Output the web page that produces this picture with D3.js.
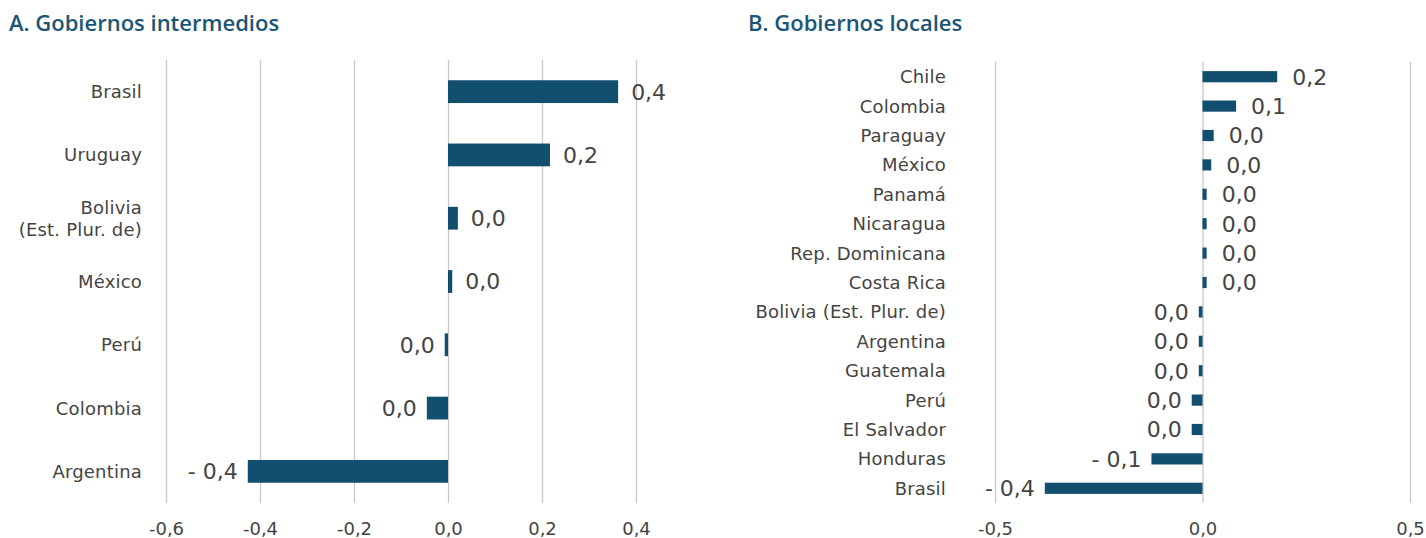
<!DOCTYPE html>
<html>
<head>
<meta charset="utf-8">
<script src="https://cdn.jsdelivr.net/npm/d3@7"></script>
<style>
	body { margin: 0; background: #fff; }
	svg { display: block; font-family: "DejaVu Sans", sans-serif; }
</style>
</head>
<body>
<svg id="chart" width="1426" height="538"></svg>
<script>
// panel A: gobiernos intermedios
const catsA = ["Brasil", "Uruguay", "Bolivia\n(Est. Plur. de)", "México", "Perú", "Colombia", "Argentina"];
const valsA = [0.362, 0.217, 0.021, 0.009, -0.007, -0.045, -0.426];
const ticksA = [-0.6, -0.4, -0.2, 0.0, 0.2, 0.4];

// panel B: gobiernos locales
const catsB = ["Chile", "Colombia", "Paraguay", "México", "Panamá", "Nicaragua", "Rep. Dominicana",
	"Costa Rica", "Bolivia (Est. Plur. de)", "Argentina", "Guatemala", "Perú", "El Salvador", "Honduras", "Brasil"];
const valsB = [0.18, 0.081, 0.027, 0.021, 0.01, 0.01, 0.01, 0.01, -0.009, -0.009, -0.009, -0.026, -0.026, -0.123, -0.38];
const ticksB = [-0.5, 0.0, 0.5];

const barColor = "#124f6e";
const textColor = "#444";
const gridColor = "#c8c8c8";

const svg = d3.select("#chart");

const tickFmt = v => d3.format(".1f")(v).replace(".", ",").replace("−", "-");
function valueFmt(v) {
	const r = Math.round(v * 10) / 10;
	const s = d3.format(".1f")(Math.abs(r)).replace(".", ",");
	return r < 0 ? "- " + s : s;
}

function drawPanel({ title, titleX, cats, vals, ticks, xRange, domain, yTop, yBottom, pad, labelRight, posGap }) {

	svg.append("text")
		.attr("x", titleX)
		.attr("y", 31)
		.attr("fill", "#1a5676")
		.style("font-family", "Open Sans")
		.style("font-size", "22px")
		.style("font-weight", 600)
		.text(title);

	const x = d3.scaleLinear().domain(domain).range(xRange);
	const y = d3.scaleBand().domain(cats).range([yTop, yBottom]).paddingInner(pad).paddingOuter(pad / 2);

	const axis = svg.append("g")
		.attr("transform", `translate(0,${yBottom})`)
		.call(d3.axisBottom(x).tickValues(ticks).tickSize(-(yBottom - yTop)).tickFormat(tickFmt));
	axis.select(".domain").remove();
	axis.selectAll(".tick line").attr("stroke", gridColor).attr("stroke-width", 1.3);
	axis.selectAll(".tick text")
		.attr("y", 32)
		.attr("dy", 0)
		.attr("fill", textColor)
		.style("font-size", "18px")
		.style("font-family", "DejaVu Sans");

	svg.append("g").selectAll("rect")
		.data(vals)
		.join("rect")
		.attr("x", d => x(Math.min(0, d)))
		.attr("y", (d, i) => y(cats[i]))
		.attr("width", d => Math.abs(x(d) - x(0)))
		.attr("height", y.bandwidth())
		.attr("fill", barColor);

	svg.append("g").selectAll("text")
		.data(vals)
		.join("text")
		.attr("x", d => d < 0 ? x(d) - 10 : x(d) + posGap)
		.attr("y", (d, i) => y(cats[i]) + y.bandwidth() / 2)
		.attr("dy", "0.36em")
		.attr("text-anchor", d => d < 0 ? "end" : "start")
		.attr("fill", textColor)
		.style("font-size", "22px")
		.text(valueFmt);

	const labels = svg.append("g").selectAll("text")
		.data(cats)
		.join("text")
		.attr("x", labelRight)
		.attr("y", d => y(d) + y.bandwidth() / 2)
		.attr("text-anchor", "end")
		.attr("fill", textColor)
		.style("font-size", "18px")
		.style("letter-spacing", "0.2px");

	labels.each(function(d) {
		const lines = d.split("\n");
		const t = d3.select(this);
		lines.forEach((line, k) => {
			t.append("tspan")
				.attr("x", labelRight)
				.attr("dy", k === 0 ? (0.36 - (lines.length - 1) * 0.6) + "em" : "1.25em")
				.text(line);
		});
	});
}

drawPanel({
	title: "A. Gobiernos intermedios", titleX: 9,
	cats: catsA, vals: valsA, ticks: ticksA,
	domain: [-0.6, 0.4], xRange: [166, 636],
	yTop: 60, yBottom: 503, pad: 0.64, labelRight: 142, posGap: 13
});

drawPanel({
	title: "B. Gobiernos locales", titleX: 748,
	cats: catsB, vals: valsB, ticks: ticksB,
	domain: [-0.5, 0.5], xRange: [995, 1410],
	yTop: 62, yBottom: 503, pad: 0.62, labelRight: 946, posGap: 15
});
</script>
</body>
</html>
